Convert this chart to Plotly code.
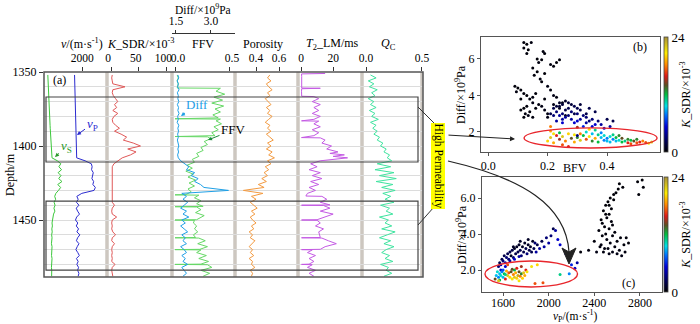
import plotly.graph_objects as go

FONT = "Liberation Serif"
W, H = 700, 324


def px(x):
    return x / W


def py(y):
    return 1 - y / H


# ---------------- well-log data (panel a) ----------------
DEPTH = [1352, 1354, 1356, 1358, 1360, 1362, 1364, 1366, 1368, 1370,
         1372, 1374, 1376, 1378, 1380, 1382, 1384, 1386, 1388, 1390,
         1392, 1394, 1396, 1398, 1400, 1402, 1404, 1406, 1408, 1410,
         1412, 1414, 1416, 1418, 1420, 1422, 1424, 1426, 1428, 1430,
         1432, 1434, 1436, 1438, 1440, 1442, 1444, 1446, 1448, 1450,
         1452, 1454, 1456, 1458, 1460, 1462, 1464, 1466, 1468, 1470,
         1472, 1474, 1476, 1478, 1480, 1482, 1484, 1486, 1488]

VP = [1600, 1605, 1610, 1612, 1618, 1620, 1625, 1628, 1632, 1636,
      1640, 1644, 1648, 1652, 1656, 1660, 1664, 1668, 1672, 1676,
      1680, 1684, 1688, 1692, 1696, 1700, 1704, 1708, 1712, 2150,
      2480, 2520, 2490, 2580, 2540, 2510, 2600, 2560, 2690, 2620,
      1980, 1720, 1790, 1700, 1830, 1690, 1760, 1860, 1710, 1650,
      1770, 1690, 1810, 1720, 1880, 1760, 1700, 1830, 1740, 1670,
      1770, 1850, 1700, 1790, 1720, 1810, 1760, 1830, 1790]

VS = [200, 205, 210, 215, 220, 228, 235, 240, 248, 255,
      262, 270, 278, 285, 292, 300, 310, 318, 326, 335,
      345, 355, 365, 375, 385, 395, 405, 415, 420, 700,
      880, 780, 920, 740, 890, 770, 940, 720, 870, 760,
      620, 560, 610, 530, 580, 520, 570, 500, 470, 430,
      420, 440, 410, 430, 400, 420, 410, 390, 420, 400,
      410, 395, 420, 400, 410, 390, 405, 415, 400]

KSDR = [2, 1, 2, 3, 25, 3, 2, 4, 8, 12,
        6, 10, 3, 12, 5, 2, 3, 8, 15, 6,
        18, 28, 22, 40, 53, 30, 45, 35, 20, 12,
        5, 2, 2, 1, 1, 1, 1, 2, 1, 1,
        1, 2, 1, 2, 6, 2, 1, 2, 10, 2,
        1, 2, 1, 3, 8, 2, 1, 6, 2, 1,
        2, 1, 2, 1, 7, 2, 1, 2, 3]

FFV_DEPTH = [1352, 1354, 1356, 1358, 1360.8, 1361, 1363, 1365, 1367, 1369,
             1371, 1373, 1375, 1377, 1379, 1381, 1381.6, 1381.8, 1383, 1385,
             1387, 1389, 1391, 1393, 1393.6, 1393.8, 1395, 1397, 1399, 1401,
             1403, 1405, 1407, 1409, 1411, 1413, 1415, 1417, 1419, 1421,
             1423, 1425, 1427, 1429, 1431, 1432.8, 1433, 1433.2, 1435, 1437,
             1439, 1440.8, 1441, 1441.2, 1443, 1445, 1447, 1449, 1449.8, 1450,
             1450.2, 1452, 1454, 1456, 1458, 1460, 1461.8, 1462, 1462.2, 1464,
             1466, 1468, 1469.8, 1470, 1470.2, 1472, 1474, 1476, 1478, 1479.8,
             1480, 1480.2, 1482, 1484, 1486, 1488]
FFV = [0.02, 0.03, 0.02, 0.03, 0.02, 0.42, 0.38, 0.46, 0.36, 0.44,
       0.34, 0.45, 0.37, 0.42, 0.35, 0.40, 0.0, 0.42, 0.38, 0.43,
       0.36, 0.40, 0.34, 0.37, 0.0, 0.30, 0.33, 0.27, 0.30, 0.24,
       0.26, 0.20, 0.22, 0.16, 0.18, 0.11, 0.16, 0.10, 0.17, 0.12,
       0.19, 0.13, 0.18, 0.12, 0.15, 0.10, 0.0, 0.22, 0.18, 0.24,
       0.20, 0.26, 0.0, 0.20, 0.24, 0.19, 0.27, 0.21, 0.20, 0.0,
       0.18, 0.17, 0.20, 0.18, 0.21, 0.17, 0.19, 0.0, 0.22, 0.28,
       0.21, 0.30, 0.23, 0.0, 0.24, 0.20, 0.29, 0.22, 0.31, 0.24,
       0.0, 0.30, 0.34, 0.24, 0.32, 0.26]

DIFF = [1.58, 1.62, 1.55, 1.60, 1.57, 1.63, 1.56, 1.60, 1.58, 1.62,
        1.56, 1.61, 1.58, 1.63, 1.57, 1.60, 1.55, 1.62, 1.58, 1.61,
        1.57, 1.60, 1.56, 1.59, 1.62, 1.58, 1.61, 1.57, 1.60, 1.70,
        1.90, 2.05, 1.95, 2.30, 2.15, 2.45, 2.30, 2.55, 2.70, 3.75,
        1.75, 1.95, 1.80, 2.00, 1.85, 1.70, 1.95, 1.80, 2.05, 1.75,
        1.90, 1.70, 1.85, 2.00, 1.75, 1.90, 1.80, 1.95, 1.70, 1.85,
        1.95, 1.75, 1.90, 1.80, 2.00, 1.75, 1.85, 1.95, 1.80]

POROSITY = [0.52, 0.50, 0.53, 0.49, 0.51, 0.54, 0.50, 0.52, 0.48, 0.51,
            0.53, 0.49, 0.52, 0.50, 0.54, 0.51, 0.48, 0.52, 0.50, 0.53,
            0.49, 0.52, 0.55, 0.50, 0.53, 0.49, 0.54, 0.51, 0.56, 0.50,
            0.53, 0.48, 0.51, 0.47, 0.50, 0.45, 0.49, 0.42, 0.47, 0.29,
            0.46, 0.36, 0.40, 0.35, 0.38, 0.41, 0.36, 0.39, 0.35, 0.37,
            0.40, 0.36, 0.38, 0.34, 0.37, 0.35, 0.39, 0.36, 0.34, 0.37,
            0.35, 0.38, 0.34, 0.37, 0.36, 0.39, 0.35, 0.37, 0.36]

T2_DEPTH = [1351, 1351.3, 1353, 1355, 1357, 1359, 1360.8, 1361, 1361.3, 1363,
            1365, 1366.4, 1366.6, 1368, 1370, 1372, 1374, 1376, 1378, 1380,
            1382, 1383, 1383.2, 1385, 1387, 1389, 1391, 1393, 1394.3, 1394.5,
            1396, 1398, 1400, 1402, 1404, 1405, 1406, 1407, 1408, 1409,
            1410, 1412, 1414, 1416, 1418, 1420, 1422, 1424, 1426, 1428,
            1430, 1432, 1433.8, 1434, 1436, 1438, 1439.8, 1440, 1440.2, 1442,
            1444, 1446, 1448, 1449.8, 1450, 1450.2, 1452, 1454, 1456, 1458,
            1461.8, 1462, 1462.2, 1464, 1466, 1468, 1469.8, 1470, 1470.2, 1472,
            1474, 1476, 1478, 1479.8, 1480, 1480.2, 1482, 1484, 1486, 1488]
T2LM = [15, 0.3, 0.4, 0.3, 0.5, 0.3, 0.4, 12, 0.4, 0.3,
        0.5, 0.4, 8, 11, 7, 12, 8, 11, 7, 12,
        8, 0.3, 11, 8, 12, 7, 11, 8, 0.3, 12,
        15, 13, 19, 16, 23, 18, 27, 20, 29, 22,
        12, 6, 10, 5, 12, 7, 13, 6, 11, 5,
        9, 4, 3, 13, 16, 12, 18, 0.3, 14, 18,
        12, 20, 15, 10, 0.3, 10, 12, 9, 14, 11,
        12, 0.3, 13, 17, 22, 15, 12, 0.3, 7, 4,
        9, 5, 8, 5, 0.3, 7, 4, 9, 5, 8]

QC = [0.04, 0.09, 0.02, 0.07, 0.03, 0.10, 0.05, 0.08, 0.02, 0.07,
      0.04, 0.09, 0.03, 0.08, 0.05, 0.11, 0.04, 0.09, 0.06, 0.10,
      0.07, 0.12, 0.10, 0.15, 0.13, 0.18, 0.16, 0.21, 0.19, 0.23,
      0.10, 0.22, 0.08, 0.25, 0.12, 0.27, 0.09, 0.24, 0.14, 0.26,
      0.15, 0.22, 0.17, 0.25, 0.13, 0.21, 0.18, 0.24, 0.12, 0.20,
      0.17, 0.23, 0.14, 0.26, 0.19, 0.12, 0.22, 0.16, 0.25, 0.18,
      0.14, 0.21, 0.17, 0.24, 0.13, 0.20, 0.18, 0.23, 0.16]

HIGH_PERM_ZONES = [(1366.9, 1410.8), (1437.2, 1483.8)]

# ---------------- cross-plot data (panels b, c): (x, Diff, K_SDR) ----------------
B_LOW_K = [(0.12, 6.9, 0.3), (0.13, 6.8, 0.2), (0.145, 6.9, 0.4), (0.12, 6.6, 0.3), (0.135, 6.5, 0.2),
           (0.13, 6.3, 0.3), (0.185, 6.4, 0.4), (0.19, 6.3, 0.3), (0.165, 6.0, 0.2), (0.18, 5.95, 0.3),
           (0.17, 5.8, 0.4), (0.24, 5.95, 0.3), (0.23, 5.8, 0.2), (0.22, 5.6, 0.3), (0.21, 5.7, 0.4),
           (0.15, 5.5, 0.3), (0.165, 5.3, 0.2), (0.155, 5.1, 0.3), (0.175, 4.9, 0.4), (0.18, 4.75, 0.3),
           (0.19, 5.2, 0.2), (0.20, 4.5, 0.5), (0.21, 4.3, 0.4), (0.09, 4.5, 0.3), (0.10, 4.4, 0.2),
           (0.11, 4.3, 0.3), (0.095, 4.2, 0.4), (0.12, 4.1, 0.3), (0.13, 4.0, 0.2), (0.14, 3.8, 0.3),
           (0.15, 3.9, 0.4), (0.16, 4.1, 0.3), (0.15, 3.6, 0.5), (0.13, 3.4, 0.3), (0.12, 3.3, 0.2),
           (0.11, 3.2, 0.3), (0.125, 3.0, 0.4), (0.14, 3.1, 0.3), (0.135, 2.9, 0.5), (0.15, 2.8, 0.4),
           (0.16, 3.3, 0.3), (0.17, 3.5, 0.4), (0.18, 3.4, 0.5), (0.19, 3.2, 0.6), (0.20, 3.0, 0.5),
           (0.22, 3.5, 0.6), (0.24, 3.3, 0.7), (0.25, 3.6, 0.6), (0.22, 4.0, 0.5), (0.23, 3.9, 0.4),
           (0.19, 3.8, 0.3), (0.26, 2.9, 0.8), (0.20, 2.8, 0.6), (0.11, 3.8, 0.2), (0.12, 2.8, 0.3)]
B_MID_K = [(0.22, 3.3, 2), (0.23, 3.1, 3), (0.24, 3.4, 1.5), (0.25, 3.0, 3), (0.26, 3.2, 2),
           (0.24, 2.9, 4), (0.25, 3.5, 1.5), (0.27, 3.3, 2), (0.28, 3.1, 3), (0.26, 2.8, 4),
           (0.29, 3.4, 2), (0.30, 3.0, 3), (0.28, 2.7, 4), (0.27, 3.6, 1.5), (0.31, 3.2, 2),
           (0.30, 2.6, 5), (0.32, 2.9, 3), (0.29, 2.5, 5), (0.33, 2.8, 3), (0.31, 3.5, 1.5),
           (0.23, 2.6, 4), (0.22, 2.9, 3), (0.25, 2.7, 4), (0.34, 3.3, 2), (0.35, 2.7, 3),
           (0.36, 3.1, 2), (0.33, 2.5, 4), (0.37, 2.6, 3), (0.38, 2.4, 4), (0.40, 2.7, 2),
           (0.42, 2.6, 2), (0.39, 2.2, 5), (0.41, 2.3, 4), (0.35, 2.3, 5), (0.32, 2.3, 6),
           (0.26, 3.7, 1), (0.24, 3.6, 1), (0.28, 3.5, 1.5), (0.30, 3.3, 2), (0.21, 3.0, 2),
           (0.27, 2.9, 3), (0.29, 3.0, 2), (0.31, 2.7, 4), (0.34, 2.6, 3), (0.36, 2.4, 5),
           (0.23, 3.4, 1.5), (0.33, 3.0, 2), (0.25, 2.5, 5), (0.21, 2.3, 18), (0.30, 2.25, 15)]
B_HIGH_K = [(0.20, 1.5, 20), (0.21, 1.7, 22), (0.22, 1.4, 19), (0.23, 1.8, 16), (0.22, 1.9, 21),
            (0.24, 1.6, 15), (0.25, 1.3, 17), (0.25, 1.75, 22), (0.26, 1.5, 18), (0.27, 1.9, 20),
            (0.27, 1.2, 16), (0.28, 1.65, 14), (0.29, 1.85, 21), (0.29, 1.45, 19), (0.30, 1.7, 13),
            (0.31, 1.9, 18), (0.31, 1.55, 22), (0.32, 1.8, 12), (0.33, 1.6, 17), (0.33, 2.0, 10),
            (0.34, 1.75, 21), (0.35, 1.5, 13), (0.35, 1.9, 9), (0.36, 1.65, 19), (0.37, 1.85, 11),
            (0.37, 1.45, 12), (0.38, 1.7, 9), (0.38, 1.95, 8), (0.39, 1.55, 8), (0.39, 1.8, 10),
            (0.40, 1.5, 9), (0.40, 1.65, 8), (0.41, 1.75, 10), (0.41, 1.45, 9), (0.42, 1.6, 8),
            (0.42, 1.85, 11), (0.43, 1.5, 9), (0.43, 1.7, 12), (0.44, 1.55, 10), (0.44, 1.8, 13),
            (0.45, 1.45, 12), (0.45, 1.65, 14), (0.46, 1.5, 11), (0.47, 1.6, 13), (0.47, 1.4, 16),
            (0.48, 1.55, 12), (0.48, 1.35, 17), (0.49, 1.5, 14), (0.50, 1.4, 17), (0.50, 1.6, 13),
            (0.51, 1.45, 16), (0.52, 1.5, 18), (0.53, 1.42, 17), (0.55, 1.45, 22), (0.54, 1.38, 21),
            (0.21, 2.05, 19), (0.34, 2.15, 20), (0.36, 2.1, 11), (0.24, 1.95, 12), (0.30, 1.8, 3)]

C_LOW_K = [(2280, 3.0, 0.3), (2350, 3.1, 0.4), (2400, 3.6, 0.3), (2420, 3.0, 0.5), (2440, 4.2, 0.3),
           (2450, 3.3, 0.4), (2460, 4.8, 0.2), (2470, 3.9, 0.3), (2480, 5.3, 0.2), (2480, 3.0, 0.4),
           (2490, 4.4, 0.3), (2500, 4.0, 0.3), (2500, 5.6, 0.2), (2510, 3.7, 0.4), (2510, 4.9, 0.3),
           (2520, 5.8, 0.2), (2520, 3.2, 0.4), (2530, 4.3, 0.3), (2530, 5.1, 0.2), (2540, 6.0, 0.2),
           (2540, 3.5, 0.4), (2550, 4.7, 0.3), (2550, 5.4, 0.2), (2560, 3.9, 0.3), (2560, 3.0, 0.5),
           (2570, 5.9, 0.2), (2580, 4.1, 0.3), (2580, 3.3, 0.4), (2590, 6.3, 0.2), (2600, 3.6, 0.3),
           (2600, 2.9, 0.5), (2610, 6.5, 0.2), (2620, 3.1, 0.4), (2620, 6.8, 0.2), (2630, 3.8, 0.3),
           (2640, 2.8, 0.5), (2650, 6.6, 0.2), (2660, 3.4, 0.3), (2670, 3.0, 0.4), (2680, 3.8, 0.3),
           (2700, 3.5, 0.3), (2780, 6.9, 0.2), (2790, 6.2, 0.2), (2820, 7.0, 0.2), (2830, 6.6, 0.2),
           (2460, 3.4, 0.4), (2490, 3.2, 0.4), (2530, 2.9, 0.5), (2560, 4.5, 0.3), (2470, 4.6, 0.3),
           (2500, 5.1, 0.2), (2530, 5.6, 0.2), (2570, 6.2, 0.2)]
C_MID_K = [(1560, 2.2, 3), (1570, 2.4, 2), (1580, 2.3, 4), (1590, 2.6, 2), (1600, 2.5, 3),
           (1610, 2.8, 2), (1620, 2.4, 4), (1630, 2.7, 3), (1640, 2.9, 2), (1650, 2.6, 3),
           (1660, 3.0, 2), (1670, 2.8, 1), (1680, 3.1, 2), (1690, 2.7, 3), (1700, 3.2, 1),
           (1710, 2.9, 2), (1720, 3.3, 1), (1730, 3.0, 2), (1740, 3.4, 1), (1750, 3.1, 2),
           (1760, 2.8, 3), (1770, 3.3, 1), (1780, 3.0, 2), (1790, 3.5, 1), (1800, 3.2, 2),
           (1810, 2.9, 3), (1820, 3.4, 1), (1830, 3.1, 2), (1840, 3.3, 1), (1850, 3.0, 2),
           (1860, 3.6, 1), (1870, 3.2, 2), (1880, 3.5, 3), (1890, 3.0, 4), (1900, 3.4, 2),
           (1920, 3.2, 4), (1940, 3.6, 2), (1960, 3.3, 4), (1980, 3.8, 3), (2000, 3.5, 4),
           (2020, 3.9, 3), (2040, 4.3, 2), (2060, 4.2, 4), (2080, 3.7, 5), (2100, 3.4, 5),
           (1620, 2.2, 5), (1660, 2.5, 4), (1700, 2.6, 5), (1740, 2.75, 4), (1580, 2.0, 5),
           (1750, 3.6, 1), (1820, 3.7, 1), (1690, 3.3, 1), (2150, 2.9, 5), (2200, 2.3, 6),
           (2230, 2.1, 5), (2250, 2.4, 4)]
C_HIGH_K = [(1530, 1.5, 14), (1540, 1.7, 9), (1550, 1.9, 10), (1560, 1.6, 8), (1570, 1.8, 9),
            (1570, 1.45, 12), (1580, 1.7, 10), (1590, 1.9, 8), (1600, 1.6, 9), (1610, 1.8, 12),
            (1620, 1.5, 16), (1630, 1.95, 19), (1640, 1.7, 22), (1650, 1.85, 17), (1660, 1.6, 20),
            (1670, 1.9, 14), (1680, 1.5, 21), (1690, 1.75, 18), (1700, 2.0, 12), (1700, 1.6, 22),
            (1710, 1.85, 19), (1720, 1.55, 20), (1720, 2.1, 16), (1730, 1.7, 23), (1740, 1.9, 14),
            (1740, 1.4, 21), (1750, 1.65, 18), (1760, 1.8, 13), (1760, 2.2, 15), (1770, 1.55, 20),
            (1780, 1.85, 22), (1790, 1.7, 19), (1800, 2.0, 16), (1810, 1.9, 21), (1850, 2.2, 21),
            (1900, 2.3, 20), (1880, 1.25, 17), (1950, 1.3, 17), (2100, 1.75, 11), (2180, 1.8, 8),
            (1640, 2.3, 17), (1680, 2.05, 14), (1560, 1.4, 22), (1600, 2.0, 7), (1620, 1.75, 11)]

B_ELLIPSE = (0.121, 0.568, 1.12, 2.22)
C_ELLIPSE = (1441, 2253, 1.06, 2.5)

B_POINTS = B_LOW_K + B_MID_K + B_HIGH_K
C_POINTS = C_LOW_K + C_MID_K + C_HIGH_K
B_BFV = [p[0] for p in B_POINTS]
B_DIFF = [p[1] for p in B_POINTS]
B_K = [p[2] for p in B_POINTS]
C_VP = [p[0] for p in C_POINTS]
C_DIFF = [p[1] for p in C_POINTS]
C_K = [p[2] for p in C_POINTS]

K_SCALE = [[0.0, '#000000'], [0.1, '#00005a'], [0.22, '#0000d8'], [0.32, '#0070ff'],
           [0.4, '#00e0e8'], [0.5, '#00c040'], [0.58, '#5a5020'], [0.66, '#e01818'],
           [0.76, '#ff8a00'], [0.86, '#ffee00'], [1.0, '#a89038']]

fig = go.Figure()


def log_line(x, y, color, xaxis, width=1.0):
    fig.add_trace(go.Scatter(x=x, y=y, mode='lines', xaxis=xaxis, yaxis='y',
                             line=dict(color=color, width=width), showlegend=False,
                             hoverinfo='skip'))


log_line(VS, DEPTH, '#3cc83c', 'x')
log_line(VP, DEPTH, '#2b2bd0', 'x')
log_line(KSDR, DEPTH, '#e05858', 'x2')
log_line(FFV, FFV_DEPTH, '#66d866', 'x3')
log_line(DIFF, DEPTH, '#1fa0e6', 'x4')
log_line(POROSITY, DEPTH, '#f39a40', 'x5')
log_line(T2LM, T2_DEPTH, '#c45ae4', 'x6')
log_line(QC, DEPTH, '#40e4a0', 'x7')

fig.add_trace(go.Scatter(x=B_BFV, y=B_DIFF, mode='markers', xaxis='x8', yaxis='y2',
                         marker=dict(color=B_K, coloraxis='coloraxis', size=3),
                         showlegend=False))
fig.add_trace(go.Scatter(x=C_VP, y=C_DIFF, mode='markers', xaxis='x9', yaxis='y3',
                         marker=dict(color=C_K, coloraxis='coloraxis2', size=3),
                         showlegend=False))

TRACK_EDGES = [44, 107, 172, 235, 298, 362, 423]
TICKFONT = dict(family=FONT, size=11.5, color='black')


def top_axis(i, rng, vals, texts, shift=0):
    return dict(domain=[px(TRACK_EDGES[i]), px(TRACK_EDGES[i + 1])], range=rng,
                side='top', anchor='y', tickvals=vals, ticktext=texts,
                ticks='outside', ticklen=4, tickcolor='#333', showgrid=False,
                zeroline=False, showline=False, tickfont=TICKFONT, automargin=False,
                ticklabelshift=shift)


sc_font = dict(family=FONT, size=12, color='black')


def sc_axis(domain, rng, vals, texts, anchor, standoff=0):
    return dict(domain=domain, range=rng, tickvals=vals, ticktext=texts, anchor=anchor,
                showline=True, mirror=True, linecolor='#555', linewidth=1,
                ticks='outside', ticklen=3, tickcolor='#555', showgrid=False,
                zeroline=False, tickfont=sc_font, automargin=False,
                ticklabelstandoff=standoff)


cbar_common = dict(x=px(664), xanchor='left', len=115 / H, lenmode='fraction',
                   thickness=4, outlinewidth=0.8, outlinecolor='#444', tickvals=[0, 24],
                   ticks='', xpad=0, ypad=0, tickfont=dict(family=FONT, size=13, color='black'),
                   title=dict(text='<i>K</i>_SDR/×10<sup>-3</sup>', side='right',
                              font=dict(family=FONT, size=12, color='black')))

fig.update_layout(
    width=W, height=H, autosize=False,
    margin=dict(l=0, r=0, t=0, b=0, pad=0, autoexpand=False),
    paper_bgcolor='white', plot_bgcolor='white',
    font=dict(family=FONT, size=12, color='black'),
    showlegend=False,
    xaxis=top_axis(0, [0, 3300], [2000], ['2000']),
    xaxis2=top_axis(1, [-7.5, 110], [0, 50, 100], ['0', '50', '100'], shift=-3),
    xaxis3=top_axis(2, [-0.028, 0.555], [0, 0.5], ['0.0', '0.5'], shift=3),
    xaxis4=dict(overlaying='x3', anchor='free', position=py(33), side='top',
                range=[1.329, 4.03], tickvals=[1.5, 3.0], ticktext=['1.5', '3.0'],
                showline=True, linecolor='#333', linewidth=1, ticks='outside', ticklen=3,
                tickcolor='#333', showgrid=False, zeroline=False, tickfont=TICKFONT,
                automargin=False),
    xaxis5=top_axis(3, [0.217, 0.765], [0.4, 0.6], ['0.4', '0.6']),
    xaxis6=top_axis(4, [-1.9, 38], [0, 20], ['0', '20']),
    xaxis7=top_axis(5, [-0.036, 0.509], [0, 0.5], ['0.0', '0.5']),
    yaxis=dict(domain=[py(277), py(72)], range=[1488.5, 1350], anchor='x',
               tickmode='linear', tick0=1350, dtick=50, ticks='outside', ticklen=4,
               tickcolor='#333', showgrid=True, gridcolor='#dcdcdc', gridwidth=1,
               zeroline=False, showline=False, tickfont=dict(family=FONT, size=12, color='black'),
               automargin=False,
               minor=dict(tickmode='linear', tick0=1350, dtick=10, showgrid=True,
                          gridcolor='#dcdcdc', gridwidth=1, ticks='')),
    xaxis8=sc_axis([px(481), px(660)], [-0.024, 0.578], [0, 0.2, 0.4], ['0.0', '0.2', '0.4'], 'y2'),
    yaxis2=sc_axis([py(152), py(37)], [0.9, 7.2], [2, 4, 6], ['2', '4', '6'], 'x8'),
    xaxis9=sc_axis([px(482), px(662)], [1415, 2994], [1600, 2000, 2400, 2800],
                   ['1600', '2000', '2400', '2800'], 'y3', standoff=-3),
    yaxis3=sc_axis([py(292), py(177)], [0.78, 7.17], [2, 4, 6], ['2.0', '4.0', '6.0'], 'x9'),
    coloraxis=dict(cmin=0, cmax=24, colorscale=K_SCALE,
                   colorbar=dict(y=py(37), yanchor='top', **cbar_common)),
    coloraxis2=dict(cmin=0, cmax=24, colorscale=K_SCALE,
                    colorbar=dict(y=py(177), yanchor='top', **cbar_common)),
)

shapes = []
# track separators (gray bands)
for xe in TRACK_EDGES[1:-1]:
    shapes.append(dict(type='line', xref='paper', yref='paper', x0=px(xe), x1=px(xe),
                       y0=py(277), y1=py(72), line=dict(color='#cdc7c0', width=3.5), layer='below'))
shapes.append(dict(type='line', xref='paper', yref='paper', x0=px(421.5), x1=px(421.5),
                   y0=py(277), y1=py(72), line=dict(color='#cdc7c0', width=2.5), layer='below'))
# panel (a) frame
shapes.append(dict(type='rect', xref='paper', yref='paper', x0=px(44), x1=px(423),
                   y0=py(277), y1=py(72), line=dict(color='#555', width=1.5)))
# high permeability boxes
for top, bot in HIGH_PERM_ZONES:
    shapes.append(dict(type='rect', xref='paper', yref='y', x0=px(46), x1=px(418),
                       y0=top, y1=bot, line=dict(color='#444', width=1.2)))
# connectors to the label
shapes.append(dict(type='line', xref='paper', yref='paper', x0=px(418), y0=py(107),
                   x1=px(434), y1=py(123), line=dict(color='#333', width=1)))
shapes.append(dict(type='line', xref='paper', yref='paper', x0=px(418), y0=py(225),
                   x1=px(434), y1=py(207), line=dict(color='#333', width=1)))
# ellipses
shapes.append(dict(type='circle', xref='x8', yref='y2', x0=B_ELLIPSE[0], x1=B_ELLIPSE[1],
                   y0=B_ELLIPSE[2], y1=B_ELLIPSE[3], line=dict(color='#e8262c', width=1.4)))
shapes.append(dict(type='circle', xref='x9', yref='y3', x0=C_ELLIPSE[0], x1=C_ELLIPSE[1],
                   y0=C_ELLIPSE[2], y1=C_ELLIPSE[3], line=dict(color='#e8262c', width=1.4)))
# curved arrow to panel (c)
shapes.append(dict(type='path', xref='paper', yref='paper',
                   path=f"M {px(448)} {py(161)} C {px(522)} {py(178)}, {px(566)} {py(205)}, {px(569)} {py(252)}",
                   line=dict(color='#222', width=1.2)))
shapes.append(dict(type='path', xref='paper', yref='paper',
                   path=f"M {px(569)} {py(264)} L {px(562)} {py(248)} L {px(569)} {py(252)} L {px(576)} {py(248)} Z",
                   fillcolor='#222', line=dict(color='#222', width=1)))
fig.update_layout(shapes=shapes)

ann = []


def label(x, y, text, size=12, color='black', **kw):
    d = dict(xref='paper', yref='paper', x=px(x), y=py(y), text=text, showarrow=False,
             font=dict(family=FONT, size=size, color=color), xanchor='center', yanchor='middle')
    d.update(kw)
    ann.append(d)


label(82, 44, '<i>v</i>/(m·s<sup>-1</sup>)')
label(140, 44, '<i>K</i>_SDR/×10<sup>-3</sup>')
label(203, 44, 'FFV')
label(263, 44, 'Porosity')
label(332, 44, '<i>T</i><sub>2</sub>_LM/ms')
label(388, 44, '<i>Q</i><sub>C</sub>')
label(203, 9, 'Diff/×10<sup>9</sup>Pa', size=11.5)
label(10, 175, 'Depth/m', textangle=-90)
label(59, 80, '(a)')
label(640, 47, '(b)')
label(628, 283, '(c)')
label(575, 168, 'BFV')
label(575, 315.5, '<i>v</i><sub>P</sub>/(m·s<sup>-1</sup>)', size=11.5)
label(461, 95, 'Diff/×10<sup>9</sup>Pa', textangle=-90)
label(461, 235, 'Diff/×10<sup>9</sup>Pa', textangle=-90)
label(438.5, 166, 'High Permeability', size=11.5, textangle=90, bgcolor='#ffff00', borderpad=0)


def pointer(tx, ty, hx, hy, text, color, acolor):
    ann.append(dict(xref='paper', yref='paper', x=px(hx), y=py(hy), ax=tx - hx, ay=ty - hy,
                    text=text, showarrow=True, arrowhead=2, arrowsize=0.8, arrowwidth=1,
                    arrowcolor=acolor, font=dict(family=FONT, size=13, color=color),
                    standoff=0))


pointer(197, 104, 181, 116, 'Diff', '#1fa0e6', '#1fa0e6')
pointer(92, 124, 77, 135, '<i>v</i><sub>P</sub>', '#2b2bd0', '#2b2bd0')
pointer(66, 147, 55, 157, '<i>v</i><sub>S</sub>', '#2a9a2a', '#2a9a2a')
pointer(233, 130, 208, 140, 'FFV', 'black', '#1a8a3a')
ann.append(dict(xref='paper', yref='paper', x=px(515), y=py(139), ax=-68, ay=-4, text='',
                showarrow=True, arrowhead=2, arrowsize=1, arrowwidth=1, arrowcolor='#222'))
fig.update_layout(annotations=ann)

# the page is exactly the figure's size: drop the browser's default body margin
fig.write_html("out.html", config={'displayModeBar': False},
               post_script="document.body.style.margin='0px';")
